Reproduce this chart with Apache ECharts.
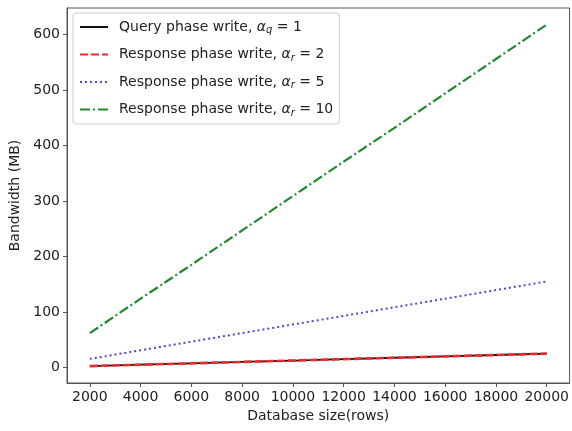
<!DOCTYPE html>
<html>
<head>
<meta charset="utf-8">
<script src="https://cdn.jsdelivr.net/npm/echarts@6/dist/echarts.min.js"></script>
<style>
    html,body{margin:0;padding:0;background:#fff;}
    #chart{width:572px;height:431px;}
</style>
</head>
<body>
<div id="chart"></div>
<script>
// database size (rows)
var sizes = [2000, 4000, 6000, 8000, 10000, 12000, 14000, 16000, 18000, 20000];
// bandwidth in MB
var queryQ1 = [2.5, 5, 7.5, 10, 12.5, 15, 17.5, 20, 22.5, 25];
var respR2 = [2.5, 5, 7.5, 10, 12.5, 15, 17.5, 20, 22.5, 25];
var respR5 = [15.5, 31, 46.5, 62, 77.5, 93, 108.5, 124, 139.5, 155];
var respR10 = [62, 124, 185, 247, 309, 371, 432, 494, 556, 618];

var xTicks = [2000, 4000, 6000, 8000, 10000, 12000, 14000, 16000, 18000, 20000];
var yTicks = [0, 100, 200, 300, 400, 500, 600];

var names = [
    'Query phase write, αq = 1',
    'Response phase write, αr = 2',
    'Response phase write, αr = 5',
    'Response phase write, αr = 10'
];
var legendText = {};
legendText[names[0]] = 'Query phase write, {i|α}{s|q} = 1';
legendText[names[1]] = 'Response phase write, {i|α}{s|r} = 2';
legendText[names[2]] = 'Response phase write, {i|α}{s|r} = 5';
legendText[names[3]] = 'Response phase write, {i|α}{s|r} = 10';

function pairs(vals) {
    var out = [];
    for (var i = 0; i < sizes.length; i++) out.push([sizes[i], vals[i]]);
    return out;
}

var font = 'DejaVu Sans';
var chart = echarts.init(document.getElementById('chart'));
var option = {
    backgroundColor: '#fff',
    animation: false,
    textStyle: {fontFamily: font},
    grid: {
        left: 67, right: 1, top: 8, bottom: 48,
        show: true, borderColor: '#555', borderWidth: 1
    },
    legend: {
        orient: 'vertical',
        left: 73, top: 13,
        itemWidth: 28, itemHeight: 12, itemGap: 12,
        padding: [7, 6, 6, 6],
        borderColor: '#ccc', borderWidth: 1, borderRadius: 3,
        backgroundColor: '#fff',
        itemStyle: {opacity: 0},
        formatter: function (n) { return legendText[n]; },
        textStyle: {
            fontFamily: font, fontSize: 14, color: '#222', padding: [0, 0, 0, 6],
            rich: {
                i: {fontFamily: font, fontStyle: 'italic', fontSize: 14, color: '#222'},
                s: {fontFamily: font, fontStyle: 'italic', fontSize: 10, color: '#222', padding: [7, 0, 0, 0]}
            }
        },
        data: names
    },
    xAxis: {
        type: 'value',
        min: 1100, max: 20900,
        name: 'Database size(rows)',
        nameLocation: 'middle', nameGap: 26,
        nameTextStyle: {fontSize: 14, color: '#222', fontFamily: font},
        splitLine: {show: false},
        axisLine: {onZero: false, lineStyle: {color: '#555'}},
        axisTick: {show: true, length: 4, customValues: xTicks, lineStyle: {color: '#555'}},
        axisLabel: {
            customValues: xTicks, fontSize: 14, color: '#222', margin: 7, fontFamily: font,
            formatter: function (v) { return String(v); }
        }
    },
    yAxis: {
        type: 'value',
        min: -28, max: 648,
        name: 'Bandwidth (MB)',
        nameLocation: 'middle', nameGap: 45,
        nameTextStyle: {fontSize: 14, color: '#222', fontFamily: font},
        splitLine: {show: false},
        axisLine: {show: true, onZero: false, lineStyle: {color: '#555'}},
        axisTick: {show: true, length: 4, customValues: yTicks, lineStyle: {color: '#555'}},
        axisLabel: {
            customValues: yTicks, fontSize: 14, color: '#222', margin: 7, fontFamily: font,
            formatter: function (v) { return String(v); }
        }
    },
    series: [
        {
            name: names[0], type: 'line', symbol: 'none', data: pairs(queryQ1),
            lineStyle: {color: '#111', width: 1.8, type: 'solid'}, itemStyle: {color: '#111'}
        },
        {
            name: names[1], type: 'line', symbol: 'none', data: pairs(respR2),
            lineStyle: {color: '#ec2a2a', width: 2.6, type: [8, 3]}, itemStyle: {color: '#ec2a2a'}
        },
        {
            name: names[2], type: 'line', symbol: 'none', data: pairs(respR5),
            lineStyle: {color: '#4a4ad8', width: 2, type: [2, 3]}, itemStyle: {color: '#4a4ad8'}
        },
        {
            name: names[3], type: 'line', symbol: 'none', data: pairs(respR10),
            lineStyle: {color: '#21892f', width: 2.2, type: [10, 3, 2, 3]}, itemStyle: {color: '#21892f'}
        }
    ]
};
chart.setOption(option, true);
</script>
</body>
</html>
